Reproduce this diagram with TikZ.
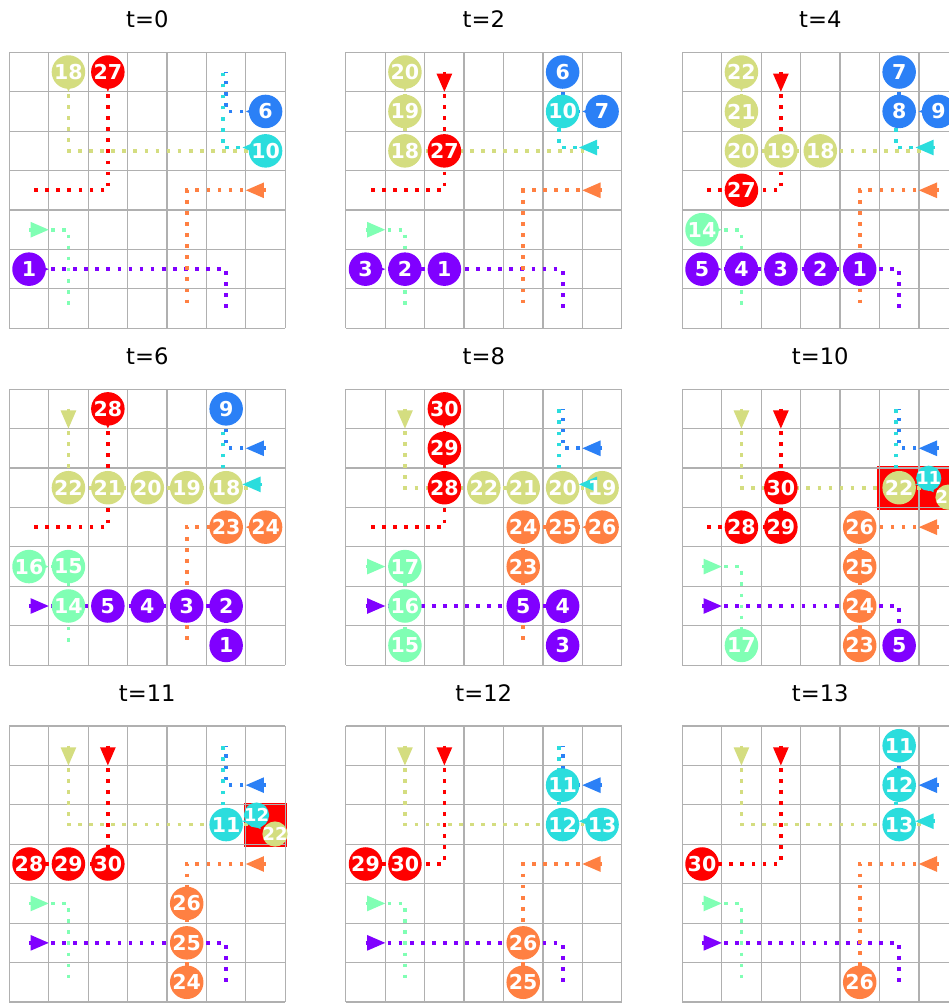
\documentclass[tikz,border=0pt]{standalone}
\usepackage{fontspec}
\setmainfont{DejaVu Sans}
\definecolor{cpur}{RGB}{128,0,255}
\definecolor{cblu}{RGB}{43,128,246}
\definecolor{ccya}{RGB}{43,221,221}
\definecolor{cmin}{RGB}{128,255,180}
\definecolor{ckha}{RGB}{212,221,128}
\definecolor{cora}{RGB}{255,128,66}
\definecolor{cred}{RGB}{255,0,0}
\definecolor{cgrid}{RGB}{176,176,176}
\tikzset{
  gridl/.style={draw=cgrid, line width=0.95pt},
  route/.style={line width=2.8pt, dash pattern=on 2.8pt off 5.5pt},
  lbl/.style={text=white, font=\fontsize{15.4}{16}\selectfont\bfseries, inner sep=0pt},
  lbls/.style={text=white, font=\fontsize{13.4}{14}\selectfont\bfseries, inner sep=0pt},
  ttl/.style={font=\fontsize{17}{18}\selectfont, inner sep=0pt},
}
\newcommand\Vfill[4]{\fill[#1] (#2+0.5,#3+0.5) circle[radius=0.425];}
\newcommand\Vtext[4]{\node[lbl] at (#2+0.5,#3+0.5) {#4};}
\newcommand\Vs[4]{\fill[#1] (#2,#3) circle[radius=0.32]; \node[lbls] at (#2,#3) {#4};}
\newcommand\routes{%
  \draw[route,cpur] (0.5,5.5) -- (5.5,5.5) -- (5.5,6.5);
  \draw[route,cblu] (6.5,1.5) -- (5.5,1.5) -- (5.5,0.5);
  \draw[route,ccya] (6.415,2.415) -- (5.415,2.415) -- (5.415,0.415);
  \draw[route,cmin] (0.5,4.5) -- (1.5,4.5) -- (1.5,6.5);
  \draw[route,ckha] (1.5,0.5) -- (1.5,2.5) -- (6.5,2.5);
  \draw[route,cora] (6.5,3.5) -- (4.5,3.5) -- (4.5,6.5);
  \draw[route,cred] (2.5,0.5) -- (2.5,3.5) -- (0.5,3.5);}
\newcommand\starts{%
  \fill[cpur] (1.0,5.5) -- (0.54,5.3) -- (0.54,5.7) -- cycle;
  \fill[cblu] (6.0,1.5) -- (6.46,1.3) -- (6.46,1.7) -- cycle;
  \fill[ccya] (5.915,2.415) -- (6.375,2.215) -- (6.375,2.615) -- cycle;
  \fill[cmin] (1.0,4.5) -- (0.54,4.3) -- (0.54,4.7) -- cycle;
  \fill[ckha] (1.5,1.0) -- (1.3,0.54) -- (1.7,0.54) -- cycle;
  \fill[cora] (6.0,3.5) -- (6.46,3.3) -- (6.46,3.7) -- cycle;
  \fill[cred] (2.5,1.0) -- (2.3,0.54) -- (2.7,0.54) -- cycle;}
\newcommand\panel[6]{%
  \begin{scope}[shift={(9.3+336.5*#1,52.3+336.85*#2)},x=29.57pt,y=-29.57pt]
    \node[ttl] at (3.5,-0.84) {#3};
    #4
    \foreach \k in {0,...,7} {\draw[gridl] (\k,0) -- (\k,7); \draw[gridl] (0,\k) -- (7,\k);}
    \routes
    \let\veh\Vfill #5
    \starts
    #6
    \let\veh\Vtext #5
  \end{scope}}
\begin{document}
\begin{tikzpicture}[x=0.75pt,y=-0.75pt]
\path[use as bounding box] (0,0) rectangle (949,1004);
\clip (0,0) rectangle (949,1004);
\fill[white] (0,0) rectangle (949,1004);
% t=0
\panel{0}{0}{t=0}{}{%
  \veh{ckha}{1}{0}{18}\veh{cred}{2}{0}{27}\veh{cblu}{6}{1}{6}\veh{ccya}{6}{2}{10}\veh{cpur}{0}{5}{1}}{}
% t=2
\panel{1}{0}{t=2}{}{%
  \veh{ckha}{1}{0}{20}\veh{ckha}{1}{1}{19}\veh{ckha}{1}{2}{18}\veh{cred}{2}{2}{27}%
  \veh{cblu}{5}{0}{6}\veh{ccya}{5}{1}{10}\veh{cblu}{6}{1}{7}%
  \veh{cpur}{0}{5}{3}\veh{cpur}{1}{5}{2}\veh{cpur}{2}{5}{1}}{}
% t=4
\panel{2}{0}{t=4}{}{%
  \veh{ckha}{1}{0}{22}\veh{ckha}{1}{1}{21}\veh{ckha}{1}{2}{20}\veh{ckha}{2}{2}{19}\veh{ckha}{3}{2}{18}%
  \veh{cred}{1}{3}{27}\veh{cblu}{5}{0}{7}\veh{cblu}{5}{1}{8}\veh{cblu}{6}{1}{9}\veh{cmin}{0}{4}{14}%
  \veh{cpur}{0}{5}{5}\veh{cpur}{1}{5}{4}\veh{cpur}{2}{5}{3}\veh{cpur}{3}{5}{2}\veh{cpur}{4}{5}{1}}{}
% t=6
\panel{0}{1}{t=6}{}{%
  \veh{cred}{2}{0}{28}\veh{cblu}{5}{0}{9}%
  \veh{ckha}{1}{2}{22}\veh{ckha}{2}{2}{21}\veh{ckha}{3}{2}{20}\veh{ckha}{4}{2}{19}\veh{ckha}{5}{2}{18}%
  \veh{cora}{5}{3}{23}\veh{cora}{6}{3}{24}\veh{cmin}{0}{4}{16}\veh{cmin}{1}{4}{15}\veh{cmin}{1}{5}{14}%
  \veh{cpur}{2}{5}{5}\veh{cpur}{3}{5}{4}\veh{cpur}{4}{5}{3}\veh{cpur}{5}{5}{2}\veh{cpur}{5}{6}{1}}{}
% t=8
\panel{1}{1}{t=8}{}{%
  \veh{cred}{2}{0}{30}\veh{cred}{2}{1}{29}\veh{cred}{2}{2}{28}%
  \veh{ckha}{3}{2}{22}\veh{ckha}{4}{2}{21}\veh{ckha}{5}{2}{20}\veh{ckha}{6}{2}{19}%
  \veh{cora}{4}{3}{24}\veh{cora}{5}{3}{25}\veh{cora}{6}{3}{26}\veh{cmin}{1}{4}{17}\veh{cora}{4}{4}{23}%
  \veh{cmin}{1}{5}{16}\veh{cpur}{4}{5}{5}\veh{cpur}{5}{5}{4}\veh{cmin}{1}{6}{15}\veh{cpur}{5}{6}{3}}{}
% t=10
\panel{2}{1}{t=10}{\fill[cred] (4.95,1.95) rectangle (7.05,3.06);}{%
  \veh{cred}{2}{2}{30}\veh{cred}{1}{3}{28}\veh{cred}{2}{3}{29}\veh{ckha}{5}{2}{22}%
  \veh{cora}{4}{3}{26}\veh{cora}{4}{4}{25}\veh{cora}{4}{5}{24}\veh{cora}{4}{6}{23}%
  \veh{cmin}{1}{6}{17}\veh{cpur}{5}{6}{5}}{%
  \Vs{ccya}{6.25}{2.26}{11}\Vs{ckha}{6.74}{2.74}{21}}
% t=11
\panel{0}{2}{t=11}{\fill[cred] (5.96,1.95) rectangle (7.04,3.06);}{%
  \veh{ccya}{5}{2}{11}\veh{cred}{0}{3}{28}\veh{cred}{1}{3}{29}\veh{cred}{2}{3}{30}%
  \veh{cora}{4}{4}{26}\veh{cora}{4}{5}{25}\veh{cora}{4}{6}{24}}{%
  \Vs{ccya}{6.27}{2.26}{12}\Vs{ckha}{6.74}{2.74}{22}}
% t=12
\panel{1}{2}{t=12}{}{%
  \veh{ccya}{5}{1}{11}\veh{ccya}{5}{2}{12}\veh{ccya}{6}{2}{13}\veh{cred}{0}{3}{29}\veh{cred}{1}{3}{30}%
  \veh{cora}{4}{5}{26}\veh{cora}{4}{6}{25}}{}
% t=13
\panel{2}{2}{t=13}{}{%
  \veh{ccya}{5}{0}{11}\veh{ccya}{5}{1}{12}\veh{ccya}{5}{2}{13}\veh{cred}{0}{3}{30}\veh{cora}{4}{6}{26}}{}
\end{tikzpicture}
\end{document}
